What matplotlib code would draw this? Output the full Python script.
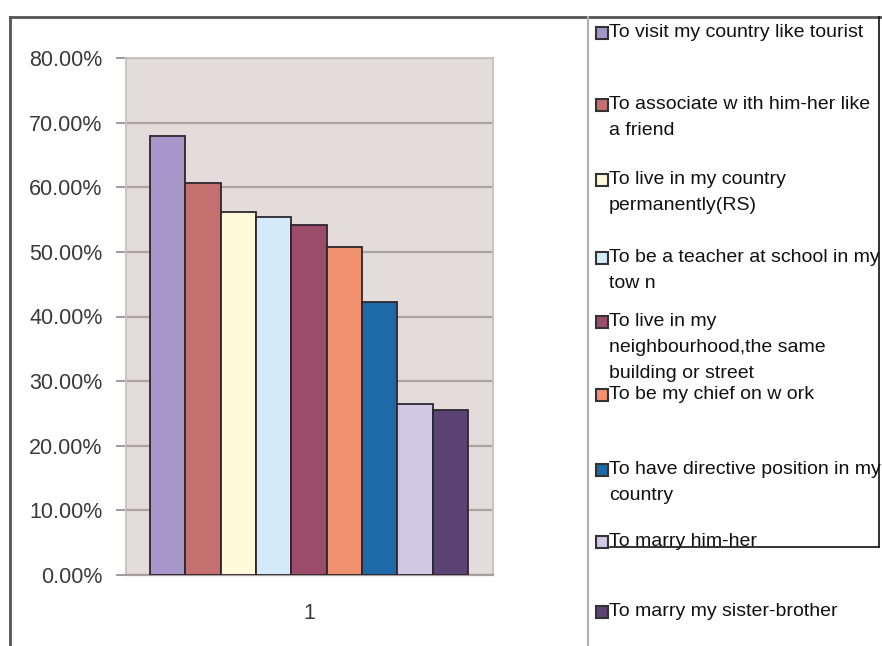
import matplotlib
matplotlib.use('Agg')
import matplotlib.pyplot as plt
from matplotlib.lines import Line2D
from matplotlib.patches import Rectangle
from matplotlib.ticker import FuncFormatter

# data
labels = ['To visit my country like tourist',
          'To associate w ith him-her like\na friend',
          'To live in my country\npermanently(RS)',
          'To be a teacher at school in my\ntow n',
          'To live in my\nneighbourhood,the same\nbuilding or street',
          'To be my chief on w ork',
          'To have directive position in my\ncountry',
          'To marry him-her',
          'To marry my sister-brother']
values = [0.680, 0.607, 0.562, 0.554, 0.541, 0.508, 0.423, 0.265, 0.255]
colors = ['#A497C8', '#C4706F', '#FFF8D9', '#D4EAF8', '#9A4C68',
          '#F0916F', '#1E69A8', '#D0C9E3', '#5B4474']
yticks = [0, 0.1, 0.2, 0.3, 0.4, 0.5, 0.6, 0.7, 0.8]

W, H = 882, 646
fig = plt.figure(figsize=(W / 100, H / 100), dpi=100)
fig.patch.set_facecolor('white')

# plot area
ax = fig.add_axes([126 / W, (H - 575) / H, (493 - 126) / W, (575 - 58) / H])
ax.set_facecolor('#E2DDDA')
x = list(range(len(values)))
ax.bar(x, values, width=1.0, color=colors, edgecolor='#2E2630', linewidth=1.3, zorder=3)
ax.set_xlim(-1.18, 9.21)
ax.set_ylim(0, 0.8)
ax.set_yticks(yticks)
ax.yaxis.set_major_formatter(FuncFormatter(lambda v, p: '%.2f%%' % (v * 100)))
ax.set_xticks([4])
ax.set_xticklabels(['1'])
ax.yaxis.grid(True, color='#ABA3A0', linewidth=1.6, zorder=1)
ax.tick_params(axis='y', length=7, width=1.3, color='#9A9290', pad=10,
               labelsize=15.5, labelcolor='#3A3A3A')
ax.tick_params(axis='x', length=0, pad=20, labelsize=15.5, labelcolor='#3A3A3A')
for lab in ax.get_yticklabels() + ax.get_xticklabels():
    lab.set_family('Liberation Sans')
for s in ['left', 'right', 'top']:
    ax.spines[s].set_color('#C8C0BD')
    ax.spines[s].set_linewidth(1.3)
ax.spines['bottom'].set_color('#A8A09D')
ax.spines['bottom'].set_linewidth(1.6)

# outer frame
def px(xp, yp):
    return xp / W, 1 - yp / H

def hline(y, x0, x1, c='#555555', lw=2.0):
    fig.add_artist(Line2D([x0 / W, x1 / W], [1 - y / H, 1 - y / H],
                          color=c, linewidth=lw, transform=fig.transFigure))

def vline(xp, y0, y1, c='#555555', lw=2.0):
    fig.add_artist(Line2D([xp / W, xp / W], [1 - y0 / H, 1 - y1 / H],
                          color=c, linewidth=lw, transform=fig.transFigure))

hline(17, 10, 882)
vline(10, 17, 646)
vline(588, 17, 646, c='#B5B0B0', lw=1.5)
vline(879, 17, 547, c='#111111', lw=1.2)
hline(547, 610, 879, c='#111111', lw=1.2)

# legend entries
text_y = [33, 105, 180, 258, 322, 395, 470, 542, 612]
for lab, col, ty in zip(labels, colors, text_y):
    fig.add_artist(Rectangle(px(596, ty + 6), 12 / W, 12 / H, facecolor=col,
                             edgecolor='#333333', linewidth=1.5,
                             transform=fig.transFigure))
    fig.text(609 / W, 1 - (ty - 9) / H, lab, family='Liberation Sans',
             fontsize=14, color='#111111', va='top', ha='left',
             linespacing=1.7)

fig.savefig('out.png', dpi=100)
